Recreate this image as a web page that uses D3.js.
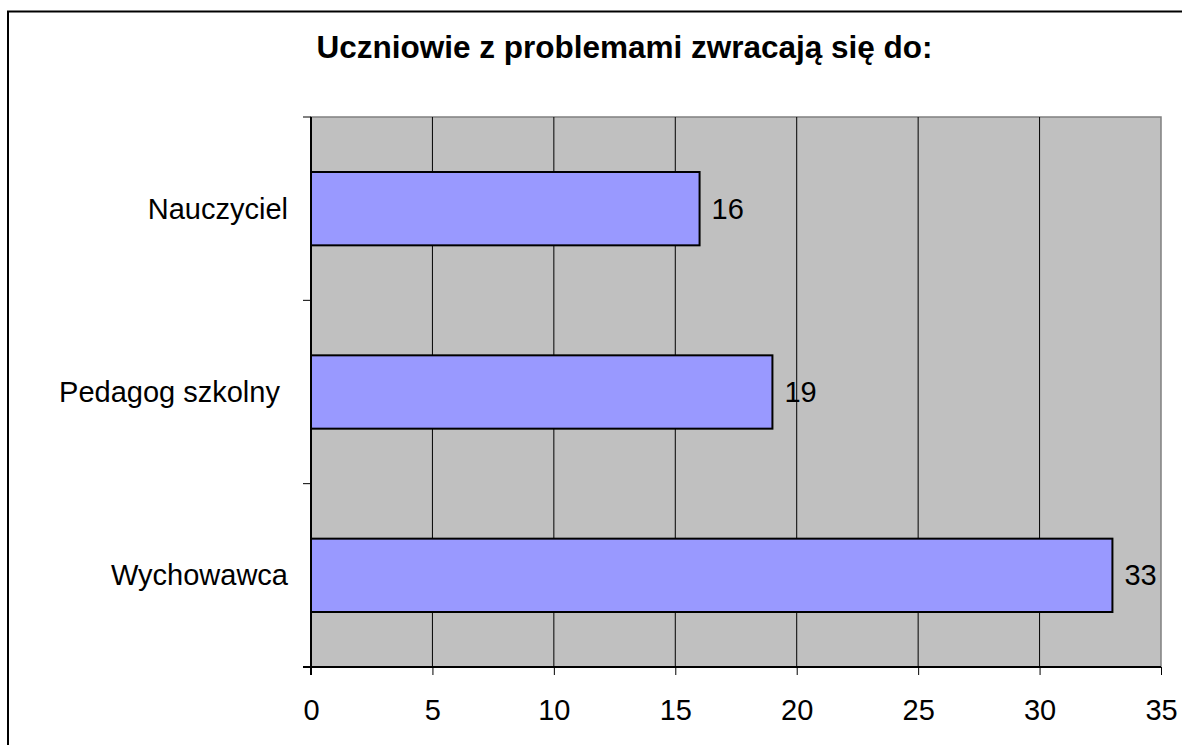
<!DOCTYPE html>
<html>
<head>
<meta charset="utf-8">
<script src="https://cdn.jsdelivr.net/npm/d3@7"></script>
<style>
  body { margin: 0; background: #fff; }
  text { font-family: "Liberation Sans", Arial, sans-serif; fill: #000; }
</style>
</head>
<body>
<div id="chart"></div>
<script>
var width = 1182;
var height = 745;

var categories = ['Nauczyciel', 'Pedagog szkolny ', 'Wychowawca'];
var values = [16, 19, 33];
var xTicks = [0, 5, 10, 15, 20, 25, 30, 35];
var title = 'Uczniowie z problemami zwracają się do:';

var plot = { left: 311, right: 1161, top: 117, bottom: 667 };

var svg = d3.select('#chart')
  .append('svg')
    .attr('width', width)
    .attr('height', height);

// outer chart border (right and bottom run off the picture)
svg.append('rect')
  .attr('x', 8).attr('y', 11.5)
  .attr('width', 1200).attr('height', 800)
  .attr('fill', 'none')
  .attr('stroke', '#000')
  .attr('stroke-width', 2);

var x = d3.scaleLinear().domain([0, 35]).range([plot.left, plot.right]);
var y = d3.scaleBand().domain(categories).range([plot.top, plot.bottom]).paddingInner(0.6).paddingOuter(0.3);
var yEdge = d3.scaleBand().domain(categories).range([plot.top, plot.bottom]);

// plot background
svg.append('rect')
  .attr('x', plot.left).attr('y', plot.top)
  .attr('width', plot.right - plot.left).attr('height', plot.bottom - plot.top)
  .attr('fill', '#c0c0c0')
  .attr('stroke', '#808080')
  .attr('stroke-width', 1.5);

// vertical gridlines
svg.selectAll('line.grid')
  .data(xTicks.slice(1, -1))
  .join('line')
    .attr('class', 'grid')
    .attr('x1', d => x(d)).attr('x2', d => x(d))
    .attr('y1', plot.top).attr('y2', plot.bottom)
    .attr('stroke', '#000')
    .attr('stroke-width', 1);

// bars
svg.selectAll('rect.bar')
  .data(values)
  .join('rect')
    .attr('class', 'bar')
    .attr('x', x(0))
    .attr('y', (d, i) => y(categories[i]))
    .attr('width', d => x(d) - x(0))
    .attr('height', y.bandwidth())
    .attr('fill', '#9999ff')
    .attr('stroke', '#000')
    .attr('stroke-width', 2);

// value labels
svg.selectAll('text.val')
  .data(values)
  .join('text')
    .attr('class', 'val')
    .attr('x', d => x(d) + 12)
    .attr('y', (d, i) => y(categories[i]) + y.bandwidth() / 2 + 10)
    .attr('font-size', 29)
    .text(d => d);

// x axis
var xAxis = svg.append('g')
  .attr('transform', 'translate(0,' + plot.bottom + ')')
  .call(d3.axisBottom(x).tickValues(xTicks).tickSize(8).tickPadding(24));
xAxis.select('.domain').attr('stroke', '#000').attr('stroke-width', 2).attr('d', 'M' + (plot.left - 8) + ',0H' + plot.right);
xAxis.selectAll('.tick line').attr('stroke', '#000');
xAxis.selectAll('.tick text').attr('font-size', 29).attr('font-family', '"Liberation Sans", Arial, sans-serif').attr('fill', '#000');

// y axis
var yAxis = svg.append('g')
  .attr('transform', 'translate(' + plot.left + ',0)');
yAxis.append('line')
  .attr('x1', 0).attr('x2', 0)
  .attr('y1', plot.top).attr('y2', plot.bottom + 8)
  .attr('stroke', '#000').attr('stroke-width', 2);
var yTickPos = categories.map(c => yEdge(c)).concat([plot.bottom]);
yAxis.selectAll('line.ytick')
  .data(yTickPos)
  .join('line')
    .attr('class', 'ytick')
    .attr('x1', -8).attr('x2', 0)
    .attr('y1', d => d).attr('y2', d => d)
    .attr('stroke', '#000');
yAxis.selectAll('text.cat')
  .data(categories)
  .join('text')
    .attr('class', 'cat')
    .attr('x', -23)
    .attr('y', d => yEdge(d) + yEdge.bandwidth() / 2 + 10)
    .attr('text-anchor', 'end')
    .attr('font-size', 29)
    .style('white-space', 'pre')
    .text(d => d);

// title
svg.append('text')
  .attr('x', 624.5).attr('y', 58)
  .attr('text-anchor', 'middle')
  .attr('font-size', 31.5)
  .attr('font-weight', 'bold')
  .text(title);
</script>
</body>
</html>
